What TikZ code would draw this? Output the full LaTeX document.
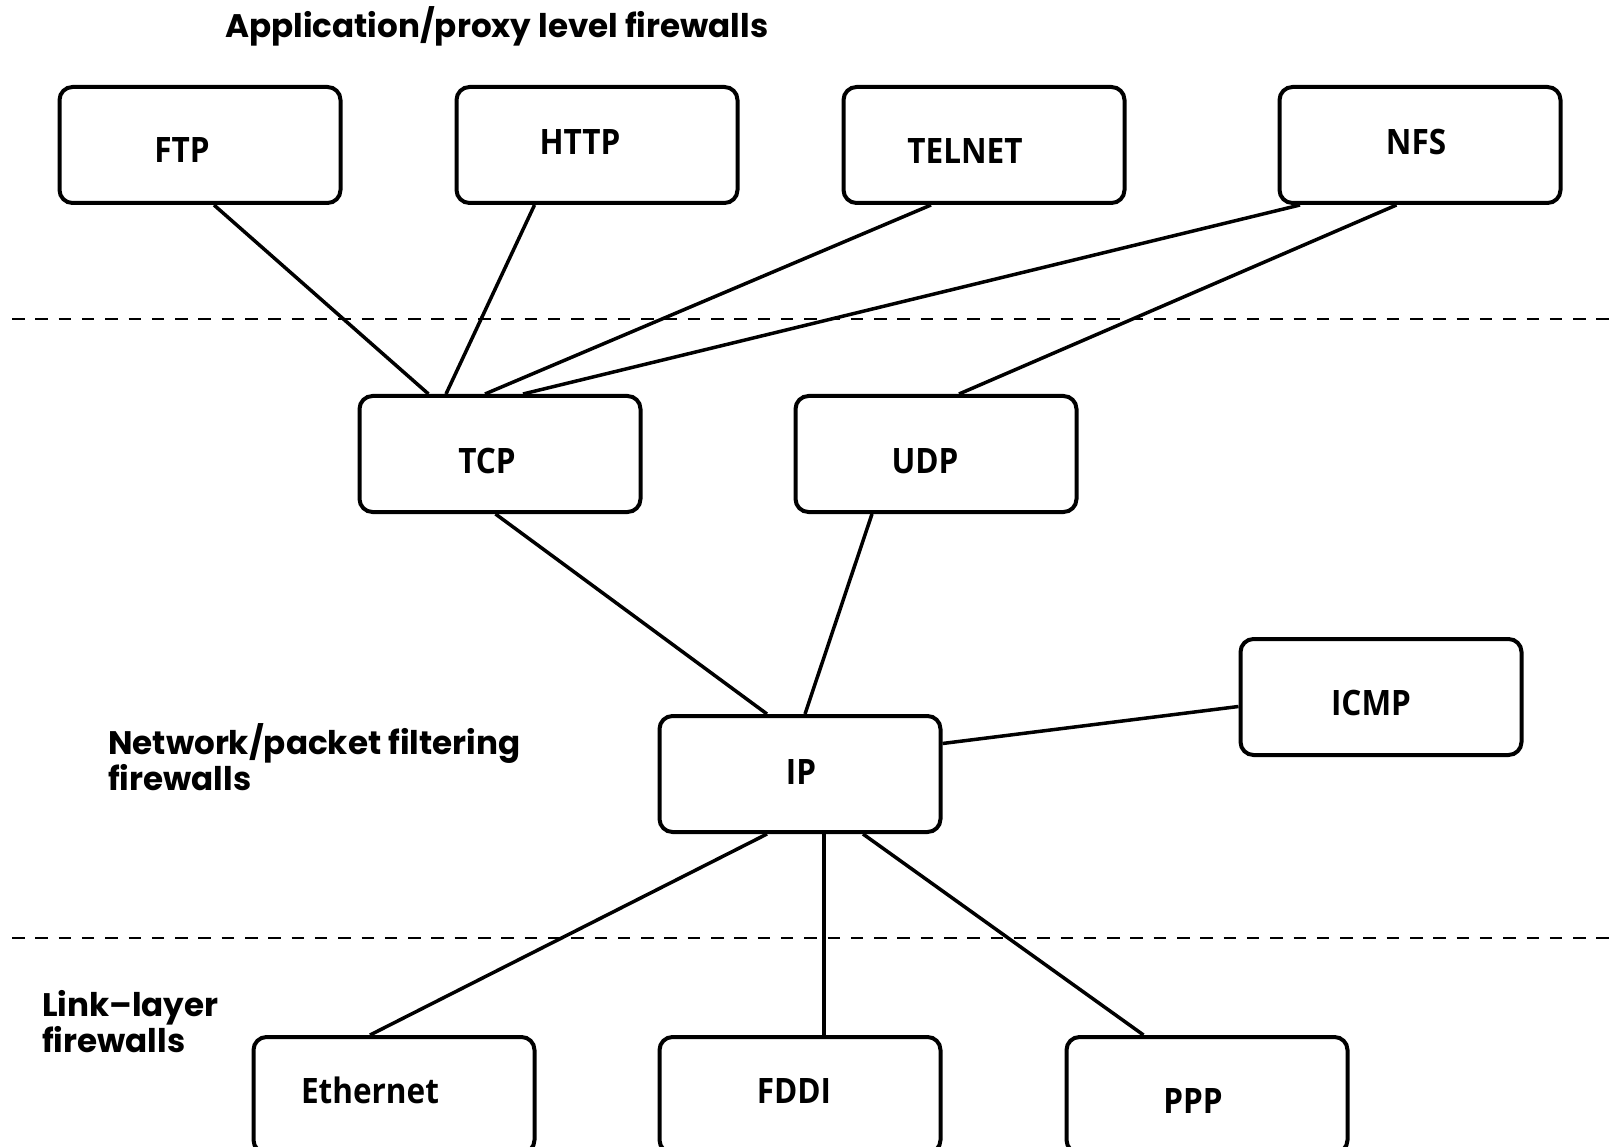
\documentclass[tikz,border=0pt]{standalone}
\usepackage{fontspec}
\setmainfont{Poppins}
\newfontfamily\boxfont[FakeStretch=0.9]{Open Sans}
\usepackage{tikz}
\usetikzlibrary{positioning}
\tikzset{every node/.style={align=left}}

\begin{document}
\begin{tikzpicture}[
    x=1pt, y=-1pt,
    blk/.style={draw, line width=4pt, rounded corners=13pt, minimum width=281pt, minimum height=116pt, inner sep=0pt},
    boxtxt/.style={font=\boxfont\bfseries\fontsize{35}{40}\selectfont, inner sep=0pt},
    link/.style={line width=3.5pt},
    divider/.style={line width=2.8pt, dash pattern=on 12.5pt off 10.8pt},
    layertxt/.style={font=\bfseries\fontsize{32.6}{36.5}\selectfont, inner sep=0pt, align=left}
]
  \useasboundingbox (0,0) rectangle (1615,1147);
  % Layer borders
  \draw[divider] (12,319) -- (1615,319);
  \draw[divider] (12,938) -- (1615,938);
  % Layer names
  \node[layertxt, anchor=base west] (appl) at (225,38) {Application/proxy level firewalls};
  \node[layertxt, anchor=north west] (netl) at (108,723) {Network/packet filtering\\firewalls};
  \node[layertxt, anchor=north west] (linkl) at (42,990) {Link--layer\\firewalls};
  % Application protocols
  \node[blk] (FTP)    at (200,145)  {};
  \node[blk] (HTTP)   at (597,145)  {};
  \node[blk] (TELNET) at (984,145)  {};
  \node[blk] (NFS)    at (1420,145) {};
  \node[boxtxt] (ftpt)    at (182,150)  {FTP};
  \node[boxtxt] (httpt)   at (580,142)  {HTTP};
  \node[boxtxt] (telnett) at (965,151)  {TELNET};
  \node[boxtxt] (nfst)    at (1416,142) {NFS};
  % Transport and network
  \node[blk] (TCP)  at (500,454)  {};
  \node[blk] (UDP)  at (936,454)  {};
  \node[blk] (IP)   at (800,774)  {};
  \node[blk] (ICMP) at (1381,697) {};
  \node[boxtxt] (tcpt)  at (487,461)  {TCP};
  \node[boxtxt] (udpt)  at (925,461)  {UDP};
  \node[boxtxt] (ipt)   at (801,772)  {IP};
  \node[boxtxt] (icmpt) at (1371,703) {ICMP};
  % Link layer
  \node[blk] (ETH)  at (394,1095)  {};
  \node[blk] (FDDI) at (800,1095)  {};
  \node[blk] (PPP)  at (1207,1095) {};
  \node[boxtxt] (etht)  at (370,1090)  {Ethernet};
  \node[boxtxt] (fddit) at (794,1091)  {FDDI};
  \node[boxtxt] (pppt)  at (1193,1101) {PPP};
  % Links
  \draw[link] ([xshift=14pt]FTP.south)     -- ([xshift=-71.5pt]TCP.north);
  \draw[link] ([xshift=-62.5pt]HTTP.south) -- ([xshift=-54pt]TCP.north);
  \draw[link] ([xshift=-53pt]TELNET.south) -- ([xshift=-15pt]TCP.north);
  \draw[link] ([xshift=-120pt]NFS.south)   -- ([xshift=23pt]TCP.north);
  \draw[link] ([xshift=-23.5pt]NFS.south)  -- ([xshift=23pt]UDP.north);
  \draw[link] ([xshift=-4.5pt]TCP.south)   -- ([xshift=-33pt]IP.north);
  \draw[link] ([xshift=-64pt]UDP.south)    -- ([xshift=5pt]IP.north);
  \draw[link] ([yshift=30.5pt]IP.east)     -- ([yshift=-9.5pt]ICMP.west);
  \draw[link] ([xshift=-33pt]IP.south)     -- ([xshift=-24pt]ETH.north);
  \draw[link] ([xshift=24pt]IP.south)      -- ([xshift=24pt]FDDI.north);
  \draw[link] ([xshift=63pt]IP.south)      -- ([xshift=-63.5pt]PPP.north);
\end{tikzpicture}
\end{document}
